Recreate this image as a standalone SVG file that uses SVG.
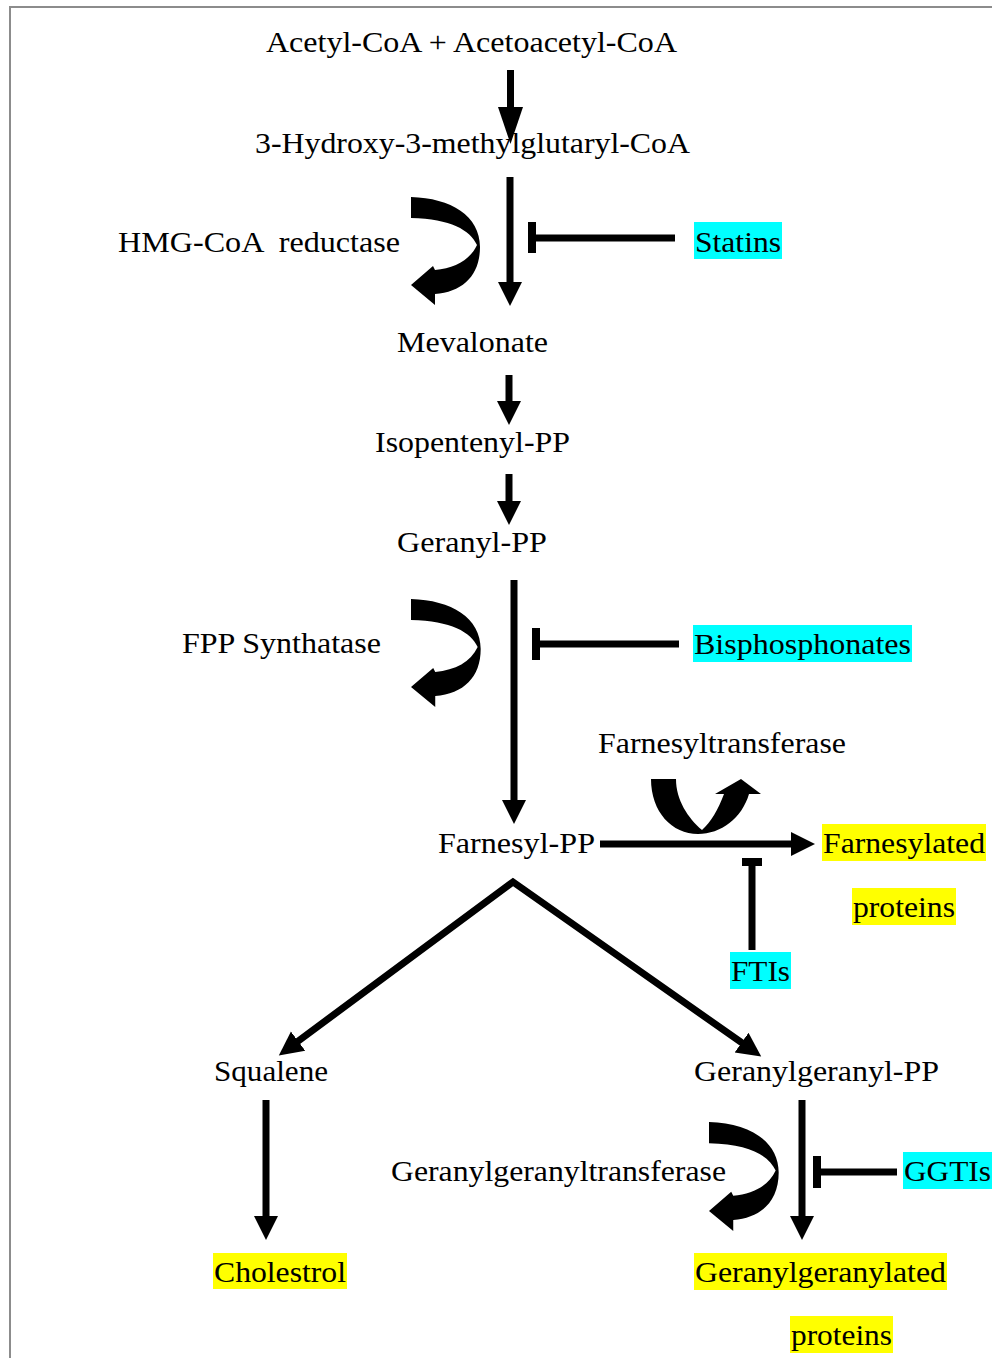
<svg xmlns="http://www.w3.org/2000/svg" width="992" height="1358" viewBox="0 0 992 1358">
<style>
.t{font-family:"Liberation Serif","Times New Roman",serif;font-size:30px;fill:#000}
.cy{fill:#00ffff}
.ye{fill:#ffff00}
.ln{stroke:#000;stroke-width:7;fill:none}
.bar{fill:#000}
.curve{fill:#000}
</style>
<defs>
<marker id="ah" markerUnits="userSpaceOnUse" markerWidth="28" markerHeight="28" viewBox="0 -14 28 28" refX="1" refY="0" orient="auto-start-reverse">
<path d="M0,-12 L24,0 L0,12 Z" fill="#000"/>
</marker>
<marker id="ahL" markerUnits="userSpaceOnUse" markerWidth="40" markerHeight="28" viewBox="0 -14 40 28" refX="1" refY="0" orient="auto">
<path d="M0,-12.5 L37,0 L0,12.5 Z" fill="#000"/>
</marker>
<path id="uturn" d="M0,0 C40,1 69,19 69,50 C69,78 52,95 24,97 L24,108 L0,88 L22,69 L24,73 C44,71 59,63 66,48 C59,33 40,22 0,21 Z"/>
</defs>
<rect x="0" y="0" width="992" height="1358" fill="#fff"/>
<rect x="10" y="7" width="1000" height="1400" fill="none" stroke="#8c8c8c" stroke-width="2"/>

<g id="connectors">
<line class="ln" x1="510.5" y1="70" x2="510.5" y2="108" marker-end="url(#ahL)"/>
<line class="ln" x1="510" y1="177" x2="510" y2="283" marker-end="url(#ah)"/>
<line class="ln" x1="509" y1="375" x2="509" y2="402" marker-end="url(#ah)"/>
<line class="ln" x1="509" y1="474" x2="509" y2="502" marker-end="url(#ah)"/>
<line class="ln" x1="514" y1="580" x2="514" y2="801" marker-end="url(#ah)"/>
<line class="ln" x1="600" y1="844" x2="792" y2="844" marker-end="url(#ah)"/>
<polyline class="ln" points="297.3,1041.7 513,882 742.4,1043.2" stroke-linejoin="miter" stroke-miterlimit="10" marker-start="url(#ah)" marker-end="url(#ah)"/>
<line class="ln" x1="266" y1="1100" x2="266" y2="1217" marker-end="url(#ah)"/>
<line class="ln" x1="802" y1="1100" x2="802" y2="1217" marker-end="url(#ah)"/>
<!-- inhibitions -->
<line class="ln" x1="535" y1="238" x2="675" y2="238"/>
<rect class="bar" x="528" y="222" width="8" height="31"/>
<line class="ln" x1="538" y1="644" x2="679" y2="644"/>
<rect class="bar" x="532" y="628" width="8" height="32"/>
<line class="ln" x1="752" y1="865" x2="752" y2="950"/>
<rect class="bar" x="742" y="858" width="20" height="8"/>
<line class="ln" x1="820" y1="1172" x2="897" y2="1172"/>
<rect class="bar" x="813" y="1156" width="8" height="32"/>
<!-- enzyme curved arrows -->
<use href="#uturn" class="curve" transform="translate(411,197)"/>
<use href="#uturn" class="curve" transform="translate(411,599) scale(1.01,1)"/>
<use href="#uturn" class="curve" transform="translate(709,1122) scale(1.01,1.01)"/>
<path class="curve" d="M651,779 C651,812 672,834 698,834 C721,834 742,818 749,794 L761,794 L741,779 L715,794 L724,794 C718,810 711,822 702,830 C688,818 676,800 676,779 Z"/>
</g>

<g id="acetyl"><text class="t" x="266" y="52" textLength="411" lengthAdjust="spacingAndGlyphs">Acetyl-CoA + Acetoacetyl-CoA</text></g>
<g id="hmgcoa"><text class="t" x="255" y="153" textLength="435" lengthAdjust="spacingAndGlyphs">3-Hydroxy-3-methylglutaryl-CoA</text></g>
<g id="hmgr"><text class="t" x="118" y="252" textLength="282" lengthAdjust="spacingAndGlyphs" xml:space="preserve">HMG-CoA  reductase</text></g>
<g id="statins"><rect class="cy" x="694" y="222" width="88" height="37"/><text class="t" x="695" y="252" textLength="86" lengthAdjust="spacingAndGlyphs">Statins</text></g>
<g id="mevalonate"><text class="t" x="397" y="352" textLength="151" lengthAdjust="spacingAndGlyphs">Mevalonate</text></g>
<g id="ipp"><text class="t" x="375" y="452" textLength="195" lengthAdjust="spacingAndGlyphs">Isopentenyl-PP</text></g>
<g id="gpp"><text class="t" x="397" y="552" textLength="150" lengthAdjust="spacingAndGlyphs">Geranyl-PP</text></g>
<g id="fpps"><text class="t" x="182" y="653" textLength="199" lengthAdjust="spacingAndGlyphs">FPP Synthatase</text></g>
<g id="bisphosphonates"><rect class="cy" x="693" y="625" width="219" height="37"/><text class="t" x="694" y="654" textLength="217" lengthAdjust="spacingAndGlyphs">Bisphosphonates</text></g>
<g id="ftase"><text class="t" x="598" y="753" textLength="248" lengthAdjust="spacingAndGlyphs">Farnesyltransferase</text></g>
<g id="fpp"><text class="t" x="438" y="853" textLength="157" lengthAdjust="spacingAndGlyphs">Farnesyl-PP</text></g>
<g id="farnesylated"><rect class="ye" x="822" y="824" width="164" height="37"/><text class="t" x="823" y="853" textLength="162" lengthAdjust="spacingAndGlyphs">Farnesylated</text><rect class="ye" x="852" y="888" width="104" height="37"/><text class="t" x="853" y="917" textLength="102" lengthAdjust="spacingAndGlyphs">proteins</text></g>
<g id="ftis"><rect class="cy" x="730" y="952" width="61" height="37"/><text class="t" x="731" y="981" textLength="59" lengthAdjust="spacingAndGlyphs">FTIs</text></g>
<g id="squalene"><text class="t" x="214" y="1081" textLength="114" lengthAdjust="spacingAndGlyphs">Squalene</text></g>
<g id="ggpp"><text class="t" x="694" y="1081" textLength="245" lengthAdjust="spacingAndGlyphs">Geranylgeranyl-PP</text></g>
<g id="ggtase"><text class="t" x="391" y="1181" textLength="335" lengthAdjust="spacingAndGlyphs">Geranylgeranyltransferase</text></g>
<g id="ggtis"><rect class="cy" x="903" y="1152" width="89" height="37"/><text class="t" x="904" y="1181" textLength="87" lengthAdjust="spacingAndGlyphs">GGTIs</text></g>
<g id="cholestrol"><rect class="ye" x="213" y="1253" width="134" height="36"/><text class="t" x="214" y="1282" textLength="132" lengthAdjust="spacingAndGlyphs">Cholestrol</text></g>
<g id="ggproteins"><rect class="ye" x="694" y="1253" width="253" height="37"/><text class="t" x="695" y="1282" textLength="251" lengthAdjust="spacingAndGlyphs">Geranylgeranylated</text><rect class="ye" x="790" y="1316" width="103" height="37"/><text class="t" x="791" y="1345" textLength="101" lengthAdjust="spacingAndGlyphs">proteins</text></g>
</svg>
